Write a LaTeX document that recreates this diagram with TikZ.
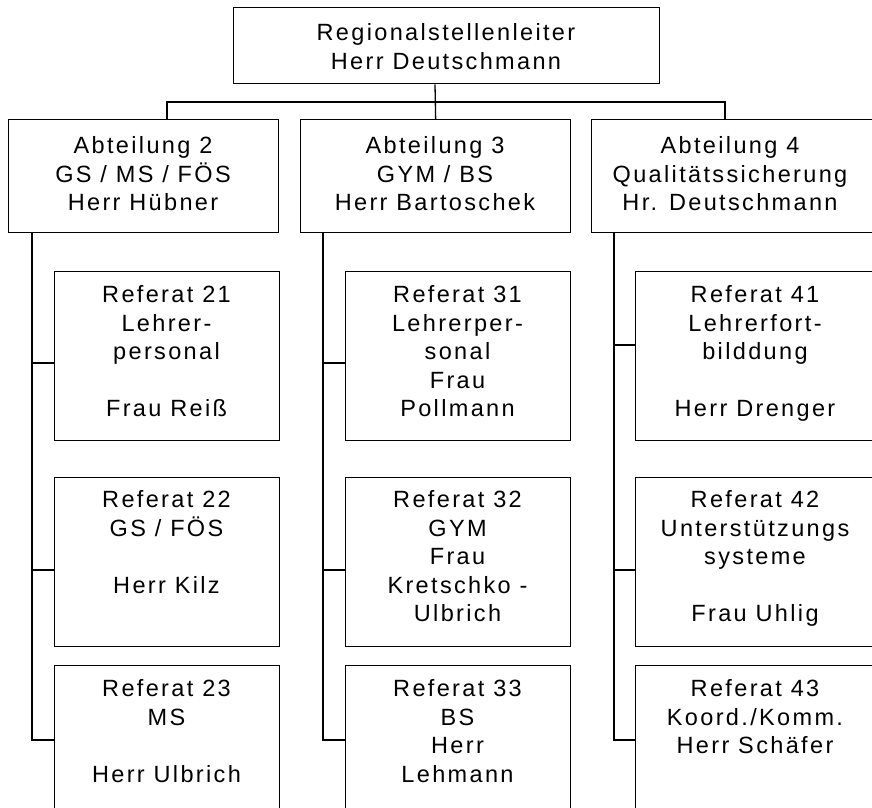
\documentclass[tikz,border=0pt]{standalone}
\usepackage{fontspec}
\newfontfamily\chartfont[LetterSpace=10]{Liberation Sans}
\begin{document}
\begin{tikzpicture}[x=1pt,y=-1pt,line width=1.3pt,
  box/.style={draw=black,rectangle,anchor=north west,inner sep=0pt},
  txt/.style={font=\chartfont\fontsize{23.5}{28.5}\selectfont,align=center,anchor=north,inner sep=0pt}]
\useasboundingbox (0,0) rectangle (872,807);
\clip (0,0) rectangle (872,807);
% boxes
\node[box,minimum width=426pt,minimum height=76pt] (top) at (233,7) {};
\node[box,minimum width=270pt,minimum height=113pt] (a2) at (8,119) {};
\node[box,minimum width=270pt,minimum height=113pt] (a3) at (300,119) {};
\node[box,minimum width=285pt,minimum height=113pt] (a4) at (591,119) {};
\node[box,minimum width=225pt,minimum height=169pt] (r21) at (54,271) {};
\node[box,minimum width=225pt,minimum height=169pt] (r22) at (54,477) {};
\node[box,minimum width=225pt,minimum height=160pt] (r23) at (54,665) {};
\node[box,minimum width=225pt,minimum height=169pt] (r31) at (345,271) {};
\node[box,minimum width=225pt,minimum height=169pt] (r32) at (345,477) {};
\node[box,minimum width=225pt,minimum height=160pt] (r33) at (345,665) {};
\node[box,minimum width=241pt,minimum height=169pt] (r41) at (635,271) {};
\node[box,minimum width=241pt,minimum height=169pt] (r42) at (635,477) {};
\node[box,minimum width=241pt,minimum height=160pt] (r43) at (635,665) {};
% texts
\node[txt] (ttop) at (446,20) {\rule{0pt}{20pt}Regionalstellenleiter\\Herr Deutschmann};
\node[txt] (ta2) at (143,133) {\rule{0pt}{20pt}Abteilung 2\\GS / MS / FÖS\\Herr Hübner};
\node[txt] (ta3) at (435,133) {\rule{0pt}{20pt}Abteilung 3\\GYM / BS\\Herr Bartoschek};
\node[txt] (ta4) at (730,133) {\rule{0pt}{20pt}Abteilung 4\\Qualitätssicherung\\Hr. Deutschmann};
\node[txt] (tr21) at (166.5,282) {\rule{0pt}{20pt}Referat 21\\Lehrer-\\personal\\ \\Frau Reiß};
\node[txt] (tr22) at (166.5,487) {\rule{0pt}{20pt}Referat 22\\GS / FÖS\\ \\Herr Kilz};
\node[txt] (tr23) at (166.5,676) {\rule{0pt}{20pt}Referat 23\\MS\\ \\Herr Ulbrich};
\node[txt] (tr31) at (457.5,282) {\rule{0pt}{20pt}Referat 31\\Lehrerper-\\sonal\\Frau\\Pollmann};
\node[txt] (tr32) at (457.5,487) {\rule{0pt}{20pt}Referat 32\\GYM\\Frau\\Kretschko -\\Ulbrich};
\node[txt] (tr33) at (457.5,676) {\rule{0pt}{20pt}Referat 33\\BS\\Herr\\Lehmann};
\node[txt] (tr41) at (755,282) {\rule{0pt}{20pt}Referat 41\\Lehrerfort-\\bilddung\\ \\Herr Drenger};
\node[txt] (tr42) at (755,487) {\rule{0pt}{20pt}Referat 42\\Unterstützungs\\systeme\\ \\Frau Uhlig};
\node[txt] (tr43) at (755,676) {\rule{0pt}{20pt}Referat 43\\Koord./Komm.\\Herr Schäfer};
% connector points
\coordinate (bus) at (435,102);
\coordinate (j2) at (167,119);
\coordinate (j4) at (725,119);
\coordinate (sp2) at (32,232);
\coordinate (sp3) at (323,232);
\coordinate (sp4) at (614,232);
\coordinate (k21) at (54,363);
\coordinate (k22) at (54,570);
\coordinate (k23) at (54,740);
\coordinate (k31) at (345,363);
\coordinate (k32) at (345,570);
\coordinate (k33) at (345,740);
\coordinate (k41) at (635,345);
\coordinate (k42) at (635,570);
\coordinate (k43) at (635,740);
% connectors
\draw (top.south -| bus) -- (a3.north);
\draw (j2) |- (bus) -| (j4);
\draw (sp2) |- (k23);
\draw (k21 -| sp2) -- (k21);
\draw (k22 -| sp2) -- (k22);
\draw (sp3) |- (k33);
\draw (k31 -| sp3) -- (k31);
\draw (k32 -| sp3) -- (k32);
\draw (sp4) |- (k43);
\draw (k41 -| sp4) -- (k41);
\draw (k42 -| sp4) -- (k42);
\end{tikzpicture}
\end{document}
